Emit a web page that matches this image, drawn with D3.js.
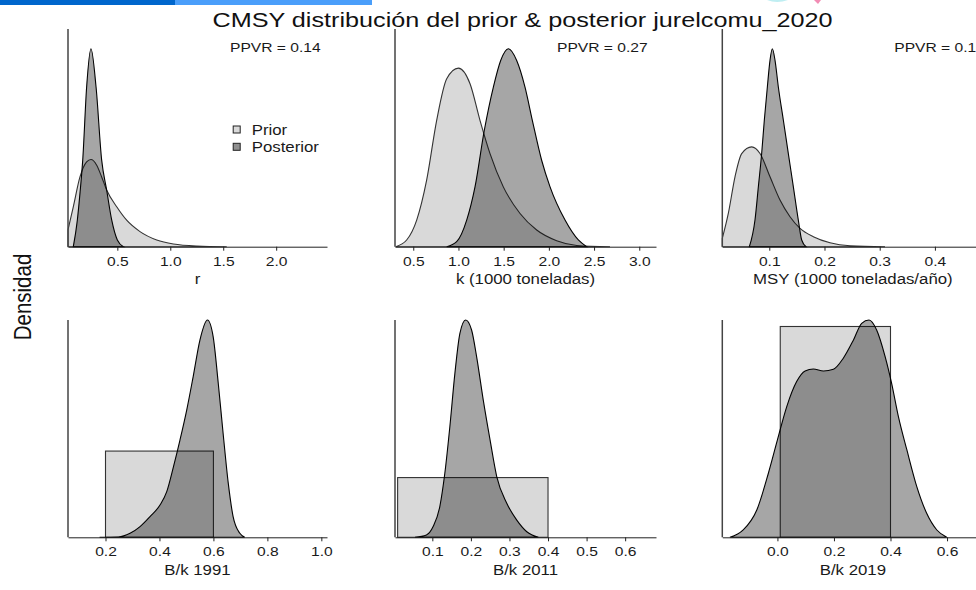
<!DOCTYPE html>
<html>
<head>
<meta charset="utf-8">
<script src="https://cdn.jsdelivr.net/npm/d3@7/dist/d3.min.js"></script>
<style>
body { margin: 0; background: #fff; }
svg { display: block; font-family: "Liberation Sans", Arial, sans-serif; }
</style>
</head>
<body>
<div id="chart"></div>
<script>

// densities: [x, density]
var rPrior = [[0.034,0.50],[0.084,1.19],[0.147,2.08],[0.210,2.53],[0.251,2.60],[0.305,2.43],[0.352,2.08],[0.399,1.69],[0.494,1.19],[0.588,0.79],[0.714,0.45],[0.872,0.20],[1.029,0.08],[1.250,0.02],[1.533,0]];
var rPost = [[0.084,0],[0.122,0.79],[0.147,1.59],[0.173,2.58],[0.210,4.76],[0.251,5.90],[0.299,4.76],[0.352,2.58],[0.399,1.69],[0.447,0.79],[0.500,0.20],[0.557,0]];

var kPrior = [[0.305,0],[0.427,0.058],[0.538,0.23],[0.648,0.575],[0.759,1.092],[0.870,1.451],[0.999,1.543],[1.128,1.408],[1.238,1.092],[1.349,0.804],[1.496,0.517],[1.681,0.287],[1.865,0.144],[2.086,0.052],[2.308,0.011],[2.676,0]];
var kPost = [[0.870,0],[0.980,0.043],[1.091,0.23],[1.183,0.517],[1.286,1.006],[1.386,1.379],[1.467,1.609],[1.552,1.71],[1.644,1.609],[1.736,1.379],[1.817,1.092],[1.920,0.747],[2.013,0.517],[2.179,0.23],[2.326,0.058],[2.418,0]];

var msyPrior = [[0.0149,0.94],[0.0258,3.78],[0.0379,7.95],[0.0500,10.59],[0.0681,11.35],[0.0832,10.59],[0.1013,7.95],[0.1194,5.30],[0.1375,3.41],[0.1557,2.08],[0.1798,1.14],[0.2100,0.45],[0.2462,0.11],[0.3096,0]];
var msyPost = [[0.0639,0],[0.0741,3.03],[0.0802,6.81],[0.0862,10.59],[0.0910,14.38],[0.0965,18.16],[0.1013,21.19],[0.1055,22.5],[0.1104,21.19],[0.1164,18.16],[0.1255,14.38],[0.1345,10.59],[0.1436,6.81],[0.1526,3.03],[0.1587,0.76],[0.1665,0]];

// uniform priors: [lower, density], [upper, density]
var bk1991Prior = [[0.2,2.5],[0.6,2.5]];
var bk1991Post = [[0.178,0],[0.248,0.01],[0.291,0.116],[0.328,0.31],[0.365,0.60],[0.402,0.936],[0.427,1.325],[0.452,2.05],[0.476,2.82],[0.501,3.69],[0.525,4.66],[0.550,5.72],[0.578,6.30],[0.599,5.82],[0.618,4.46],[0.636,3.01],[0.655,1.57],[0.673,0.60],[0.698,0.116],[0.716,0]];

var bk2011Prior = [[0.01,2.564],[0.4,2.564]];
var bk2011Post = [[0.055,0],[0.0848,0.10],[0.1021,0.46],[0.1194,1.32],[0.1324,2.75],[0.1455,4.76],[0.1585,7.04],[0.1715,8.76],[0.1865,9.33],[0.2018,8.90],[0.2148,7.76],[0.232,5.90],[0.2497,4.18],[0.267,2.61],[0.293,1.46],[0.319,0.74],[0.345,0.24],[0.375,0]];

var bk2019Prior = [[0.01,2.564],[0.4,2.564]];
var bk2019Post = [[-0.168,0],[-0.121,0.089],[-0.073,0.332],[-0.032,0.779],[0.0,1.184],[0.033,1.590],[0.068,1.894],[0.098,2.023],[0.127,2.047],[0.163,2.023],[0.198,2.044],[0.233,2.178],[0.269,2.400],[0.298,2.603],[0.324,2.643],[0.351,2.522],[0.381,2.198],[0.404,1.873],[0.428,1.468],[0.458,1.062],[0.493,0.617],[0.528,0.292],[0.564,0.089],[0.599,0]];

var tickLists = [
    [0.5, 1.0, 1.5, 2.0],
    [0.5, 1.0, 1.5, 2.0, 2.5, 3.0],
    [0.1, 0.2, 0.3, 0.4],
    [0.2, 0.4, 0.6, 0.8, 1.0],
    [0.1, 0.2, 0.3, 0.4, 0.5, 0.6],
    [0.0, 0.2, 0.4, 0.6]
];
var axisTitles = ["r", "k (1000 toneladas)", "MSY (1000 toneladas/año)", "B/k 1991", "B/k 2011", "B/k 2019"];
var ppvrLabels = ["PPVR = 0.14", "PPVR = 0.27", "PPVR = 0.1"];
var legendLabels = ["Prior", "Posterior"];
var title = "CMSY distribución del prior & posterior jurelcomu_2020";

var w = 976;
var h = 590;
var sx = 1.2; // the original picture is stretched sideways

var panels = [
    {prior: rPrior, post: rPost, dom: [0.034, 2.48], x0: 68, x1: 327, row: 0, uniform: false},
    {prior: kPrior, post: kPost, dom: [0.298, 3.185], x0: 395, x1: 656, row: 0, uniform: false},
    {prior: msyPrior, post: msyPost, dom: [0.0149, 0.488], x0: 722.3, x1: 983.5, row: 0, uniform: false},
    {prior: bk1991Prior, post: bk1991Post, dom: [0.061, 1.021], x0: 68, x1: 327, row: 1, uniform: true},
    {prior: bk2011Prior, post: bk2011Post, dom: [0.0032, 0.680], x0: 395, x1: 656, row: 1, uniform: true},
    {prior: bk2019Prior, post: bk2019Post, dom: [-0.195, 0.729], x0: 722.3, x1: 983.5, row: 1, uniform: true}
];
var rows = [{top: 29, base: 246.7, pad: 1.1}, {top: 320, base: 537.3, pad: 1.0}];

var priorFill = "#d9d9d9";
var postFill = "rgba(0,0,0,0.35)";

function stretch(sel, f) {
    sel.each(function() {
        var len = this.getComputedTextLength();
        d3.select(this).attr("textLength", len * f).attr("lengthAdjust", "spacingAndGlyphs");
    });
}

var svg = d3.select("#chart")
    .append("svg")
    .attr("width", w)
    .attr("height", h);

// slide header bits at the top edge
svg.append("rect").attr("x", 0).attr("y", 0).attr("width", 175).attr("height", 5).attr("fill", "#0066cc");
svg.append("rect").attr("x", 175).attr("y", 0).attr("width", 197).attr("height", 5).attr("fill", "#4a9efa");
svg.append("path").attr("d", "M767,0 Q777,4 788,0 Z").attr("fill", "#bfeef2");
svg.append("path").attr("d", "M814,0 L821,0 L818,4 Z").attr("fill", "#f28cb4");

var title_t = svg.append("text")
    .attr("x", 522.5)
    .attr("y", 26.7)
    .attr("text-anchor", "middle")
    .attr("font-size", "21px")
    .attr("fill", "#111")
    .text(title);
stretch(title_t, sx);

svg.append("text")
    .attr("transform", "translate(30.5,297) scale(1.2,1) rotate(-90)")
    .attr("text-anchor", "middle")
    .attr("font-size", "20.5px")
    .attr("fill", "#111")
    .text("Densidad");

panels.forEach(function(p, i) {
    var row = rows[p.row];
    var x = d3.scaleLinear().domain(p.dom).range([p.x0, p.x1]);
    var yMax = d3.max(p.post, function(d) { return d[1]; }) * row.pad;
    var y = d3.scaleLinear().domain([0, yMax]).range([row.base, row.top]);
    var g = svg.append("g");

    var area = d3.area()
        .x(function(d) { return x(d[0]); })
        .y0(y(0))
        .y1(function(d) { return y(d[1]); })
        .curve(d3.curveMonotoneX);

    if (p.uniform) {
        var lo = p.prior[0], hi = p.prior[1];
        g.append("rect")
            .attr("x", x(lo[0]))
            .attr("y", y(lo[1]))
            .attr("width", x(hi[0]) - x(lo[0]))
            .attr("height", y(0) - y(lo[1]))
            .attr("fill", priorFill)
            .attr("stroke", "#333")
            .attr("stroke-width", 1.1);
    } else {
        g.append("path")
            .datum(p.prior)
            .attr("d", area)
            .attr("fill", priorFill)
            .attr("stroke", "#333")
            .attr("stroke-width", 1.1);
    }

    g.append("path")
        .datum(p.post)
        .attr("d", area)
        .attr("fill", postFill)
        .attr("stroke", "#000")
        .attr("stroke-width", 1.1);

    // L shaped frame
    g.append("line")
        .attr("x1", p.x0).attr("x2", p.x0)
        .attr("y1", row.top).attr("y2", row.base)
        .attr("stroke", "#444")
        .attr("stroke-width", 1.5);

    var ax = g.append("g")
        .attr("transform", "translate(0," + row.base + ")")
        .call(d3.axisBottom(x)
            .tickValues(tickLists[i])
            .tickFormat(d3.format(".1f"))
            .tickSize(4)
            .tickSizeOuter(0)
            .tickPadding(p.row === 0 ? 6 : 5));
    ax.select(".domain").attr("stroke", "#222");
    ax.selectAll(".tick line").attr("stroke", "#222");
    var tl = ax.selectAll(".tick text")
        .attr("font-size", "13px")
        .attr("font-family", "Liberation Sans, Arial, sans-serif")
        .attr("fill", "#1a1a1a");
    stretch(tl, sx);

    var at = g.append("text")
        .attr("x", (p.x0 + p.x1) / 2)
        .attr("y", row.base + 37.5)
        .attr("text-anchor", "middle")
        .attr("font-size", "14px")
        .attr("fill", "#1a1a1a")
        .text(axisTitles[i]);
    stretch(at, sx);

    if (p.row === 0) {
        var pt = g.append("text")
            .attr("x", i === 2 ? p.x0 + 172 : p.x0 + 162)
            .attr("y", 51.5)
            .attr("font-size", "13px")
            .attr("fill", "#1a1a1a")
            .text(ppvrLabels[i]);
        stretch(pt, sx);
    }

    if (i === 0) {
        var leg = g.selectAll(".leg")
            .data(legendLabels)
            .enter()
            .append("g")
            .attr("transform", function(d, j) {
                return "translate(236.7," + (129.5 + j * 17.3) + ")";
            });
        leg.append("rect")
            .attr("x", -3.5).attr("y", -3.5)
            .attr("width", 7).attr("height", 7)
            .attr("fill", function(d, j) { return j === 0 ? priorFill : "#8f8f8f"; })
            .attr("stroke", "#222");
        var lt = leg.append("text")
            .attr("x", 15)
            .attr("y", 5.3)
            .attr("font-size", "14px")
            .attr("fill", "#1a1a1a")
            .text(function(d) { return d; });
        stretch(lt, sx);
    }
});

</script>
</body>
</html>
